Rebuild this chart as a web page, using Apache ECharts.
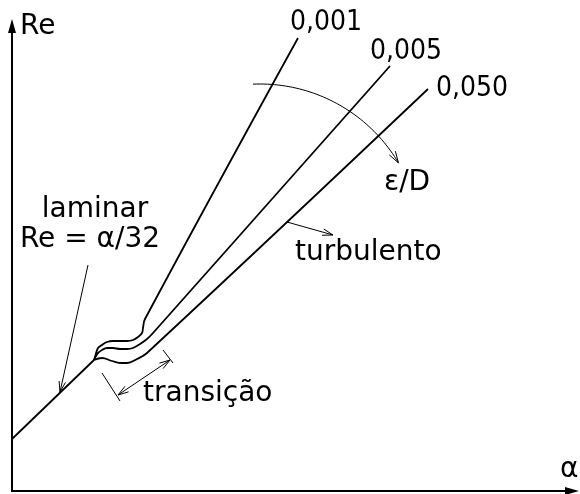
<!DOCTYPE html>
<html>
<head>
<meta charset="utf-8">
<title>Re × α</title>
<script src="https://cdn.jsdelivr.net/npm/echarts@6/dist/echarts.min.js"></script>
<style>
  html, body { margin: 0; padding: 0; background: #fff; }
  #chart { width: 580px; height: 494px; }
</style>
</head>
<body>
<div id="chart"></div>
<script>
// Schematic Re versus α, arbitrary units on both axes.
const xRange = [0, 560];
const yRange = [0, 465];

// Laminar branch, Re = α/32
const laminar = [[0, 52], [82, 131]];

// Turbulent branches by relative roughness ε/D (wavy transition, then straight)
const roughness = ['0,001', '0,005', '0,050'];
const curve001 = [[82, 131], [83, 134], [86, 143], [90, 146], [95, 149], [101, 150], [108, 150],
                  [115, 150], [121, 151], [126, 154], [130, 158], [131, 163], [133, 172], [286, 453]];
const curve005 = [[82, 131], [84, 135], [86, 138], [90, 141], [95, 143], [101, 143], [108, 142],
                  [115, 142], [121, 143], [128, 147], [135, 152], [141, 158], [378, 425]];
const curve050 = [[82, 131], [90, 133], [100, 130], [110, 128], [115, 128], [125, 132],
                  [135, 138], [416, 402]];

// Pointer arrows: x1, y1, x2, y2, heads (1 = at end, 2 = both ends)
const pointers = [
  [76, 226, 48, 99, 1],     // laminar
  [275, 269, 321, 256, 1],  // turbulento
  [106, 96, 158, 131, 2]    // transição span
];
// Limit marks of the transition span: x1, y1, x2, y2
const spanTicks = [
  [90, 118, 108, 90],
  [151, 141, 161, 128]
];
// ε/D arc: centre x, centre y, radius, start angle, end angle (degrees)
const roughnessArc = [[248, 246, 161, 92.5, 30.7]];

const FONT = 'DejaVu Sans';
const NUM_FONT = 'DejaVu Sans Condensed';
const INK = '#000';

function arrowHead(from, tip, len, spread) {
  const a = Math.atan2(tip[1] - from[1], tip[0] - from[0]);
  return {
    type: 'polyline',
    shape: { points: [
      [tip[0] - len * Math.cos(a - spread), tip[1] - len * Math.sin(a - spread)],
      tip,
      [tip[0] - len * Math.cos(a + spread), tip[1] - len * Math.sin(a + spread)]
    ] },
    style: { stroke: INK, lineWidth: 1, fill: null }
  };
}

function renderPointer(params, api) {
  const p1 = api.coord([api.value(0), api.value(1)]);
  const p2 = api.coord([api.value(2), api.value(3)]);
  const heads = api.value(4);
  const children = [{
    type: 'line',
    shape: { x1: p1[0], y1: p1[1], x2: p2[0], y2: p2[1] },
    style: { stroke: INK, lineWidth: 1 }
  }];
  if (heads >= 1) children.push(arrowHead(p1, p2, 11, 0.3));
  if (heads >= 2) children.push(arrowHead(p2, p1, 11, 0.3));
  return { type: 'group', children };
}

function renderTick(params, api) {
  const p1 = api.coord([api.value(0), api.value(1)]);
  const p2 = api.coord([api.value(2), api.value(3)]);
  return {
    type: 'line',
    shape: { x1: p1[0], y1: p1[1], x2: p2[0], y2: p2[1] },
    style: { stroke: INK, lineWidth: 1 }
  };
}

function renderArc(params, api) {
  const cx = api.value(0), cy = api.value(1), r = api.value(2);
  const a0 = api.value(3) * Math.PI / 180, a1 = api.value(4) * Math.PI / 180;
  const pts = [];
  const n = 48;
  for (let i = 0; i <= n; i++) {
    const a = a0 + (a1 - a0) * i / n;
    pts.push(api.coord([cx + r * Math.cos(a), cy + r * Math.sin(a)]));
  }
  return {
    type: 'group',
    children: [
      { type: 'polyline', shape: { points: pts }, style: { stroke: INK, lineWidth: 1, fill: null } },
      arrowHead(pts[n - 2], pts[n], 12, 0.3)
    ]
  };
}

function curveSeries(name, data, offset) {
  return {
    type: 'line',
    name,
    data,
    smooth: 0.4,
    showSymbol: false,
    symbol: 'none',
    lineStyle: { color: INK, width: 1.8 },
    endLabel: {
      show: true,
      formatter: '{a}',
      distance: 0,
      align: 'left',
      verticalAlign: 'middle',
      offset,
      color: INK,
      fontFamily: NUM_FONT,
      fontSize: 28
    },
    z: 3
  };
}

function label(text, x, y, align) {
  return {
    type: 'text',
    x, y,
    style: {
      text,
      fill: INK,
      font: '28px "' + FONT + '"',
      align: align || 'left',
      verticalAlign: 'middle'
    }
  };
}

const axisLine = {
  show: true,
  symbol: ['none', 'triangle'],
  symbolSize: [8, 14],
  lineStyle: { color: INK, width: 2 }
};

const chart = echarts.init(document.getElementById('chart'), null, { renderer: 'canvas' });
chart.setOption({
  animation: false,
  backgroundColor: '#fff',
  grid: { left: 12, right: 8, top: 26, bottom: 3, containLabel: false },
  xAxis: {
    type: 'value', min: xRange[0], max: xRange[1],
    axisLine, axisTick: { show: false }, axisLabel: { show: false }, splitLine: { show: false }
  },
  yAxis: {
    type: 'value', min: yRange[0], max: yRange[1],
    axisLine, axisTick: { show: false }, axisLabel: { show: false }, splitLine: { show: false }
  },
  series: [
    {
      type: 'line', name: 'laminar', data: laminar, showSymbol: false, symbol: 'none',
      lineStyle: { color: INK, width: 1.8 }, z: 3
    },
    curveSeries(roughness[0], curve001, [-8, -15]),
    curveSeries(roughness[1], curve005, [-20, -14]),
    curveSeries(roughness[2], curve050, [8, 0]),
    { type: 'custom', name: 'pointers', data: pointers, renderItem: renderPointer, clip: false, silent: true },
    { type: 'custom', name: 'span ticks', data: spanTicks, renderItem: renderTick, clip: false, silent: true },
    { type: 'custom', name: 'ε/D', data: roughnessArc, renderItem: renderArc, clip: false, silent: true }
  ],
  graphic: [
    label('Re', 20, 27),
    label('α', 560, 470),
    label('laminar', 95, 210, 'center'),
    label('Re = α/32', 90, 240, 'center'),
    label('turbulento', 295, 253),
    label('transição', 143, 394),
    label('ε/D', 384, 183)
  ]
});
</script>
</body>
</html>
